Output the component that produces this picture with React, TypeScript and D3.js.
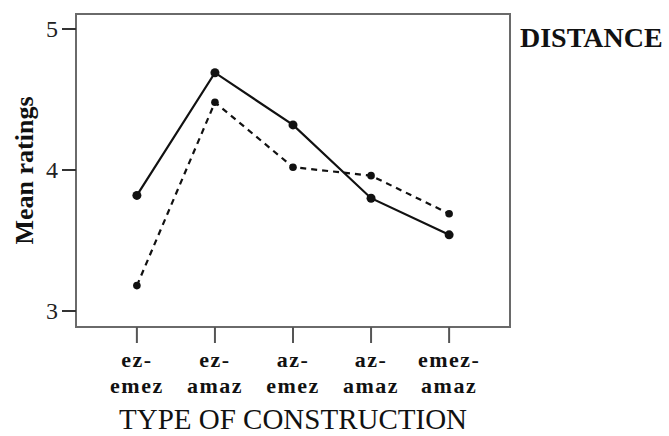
import React from "react";
import * as d3 from "d3";

const categories = ["ez-emez", "ez-amaz", "az-emez", "az-amaz", "emez-amaz"];
const labelLine1 = ["ez-", "ez-", "az-", "az-", "emez-"];
const labelLine2 = ["emez", "amaz", "emez", "amaz", "amaz"];
const solidSeries = [3.82, 4.69, 4.32, 3.8, 3.54];
const dashedSeries = [3.18, 4.48, 4.02, 3.96, 3.69];
const yTicks = [3, 4, 5];

const W = 669;
const H = 436;
const box = { left: 76, top: 14, right: 510, bottom: 327 };
const serif = "'Liberation Serif', 'Times New Roman', serif";

export default function App() {
  const x = d3
    .scalePoint<string>()
    .domain(categories)
    .range([box.left, box.right])
    .padding(0.78);
  const y = d3.scaleLinear().domain([3, 5]).range([311, 29]);

  const line = d3
    .line<number>()
    .x((_, i) => x(categories[i]) as number)
    .y((d) => y(d));

  return (
    <svg
      width={W}
      height={H}
      style={{ position: "absolute", left: 0, top: 0, background: "#fff" }}
      fontFamily={serif}
    >
      <rect x={0} y={0} width={W} height={H} fill="#fff" />
      {/* frame */}
      <rect
        x={box.left}
        y={box.top}
        width={box.right - box.left}
        height={box.bottom - box.top}
        fill="none"
        stroke="#6a6a6a"
        strokeWidth={2}
      />
      {/* y ticks */}
      {yTicks.map((t) => (
        <g key={t}>
          <line x1={62} x2={box.left} y1={y(t)} y2={y(t)} stroke="#333" strokeWidth={2} />
          <text x={58} y={y(t) + 8} textAnchor="end" fontSize={24} fill="#222">
            {t}
          </text>
        </g>
      ))}
      {/* x ticks */}
      {categories.map((c, i) => (
        <g key={c}>
          <line
            x1={x(c)}
            x2={x(c)}
            y1={box.bottom}
            y2={343}
            stroke="#555"
            strokeWidth={2}
          />
          <text
            x={x(c)}
            y={367}
            textAnchor="middle"
            fontSize={22}
            fontWeight="bold"
            letterSpacing={1.5}
            fill="#111"
          >
            {labelLine1[i]}
          </text>
          <text
            x={x(c)}
            y={393}
            textAnchor="middle"
            fontSize={22}
            fontWeight="bold"
            letterSpacing={1.5}
            fill="#111"
          >
            {labelLine2[i]}
          </text>
        </g>
      ))}
      {/* series */}
      <path d={line(dashedSeries) || ""} fill="none" stroke="#111" strokeWidth={2.2} strokeDasharray="6,5" />
      <path d={line(solidSeries) || ""} fill="none" stroke="#111" strokeWidth={2.2} />
      {dashedSeries.map((v, i) => (
        <circle key={"d" + i} cx={x(categories[i])} cy={y(v)} r={3.8} fill="#111" />
      ))}
      {solidSeries.map((v, i) => (
        <circle key={"s" + i} cx={x(categories[i])} cy={y(v)} r={4.5} fill="#111" />
      ))}
      {/* axis titles */}
      <text
        transform={`translate(33, ${(box.top + box.bottom) / 2}) rotate(-90)`}
        textAnchor="middle"
        fontSize={26}
        fontWeight="bold"
        fill="#111"
      >
        Mean ratings
      </text>
      <text x={(box.left + box.right) / 2} y={429} textAnchor="middle" fontSize={29} fill="#111">
        TYPE OF CONSTRUCTION
      </text>
      <text x={520} y={47} fontSize={28} fontWeight="bold" fill="#111">
        DISTANCE
      </text>
    </svg>
  );
}
